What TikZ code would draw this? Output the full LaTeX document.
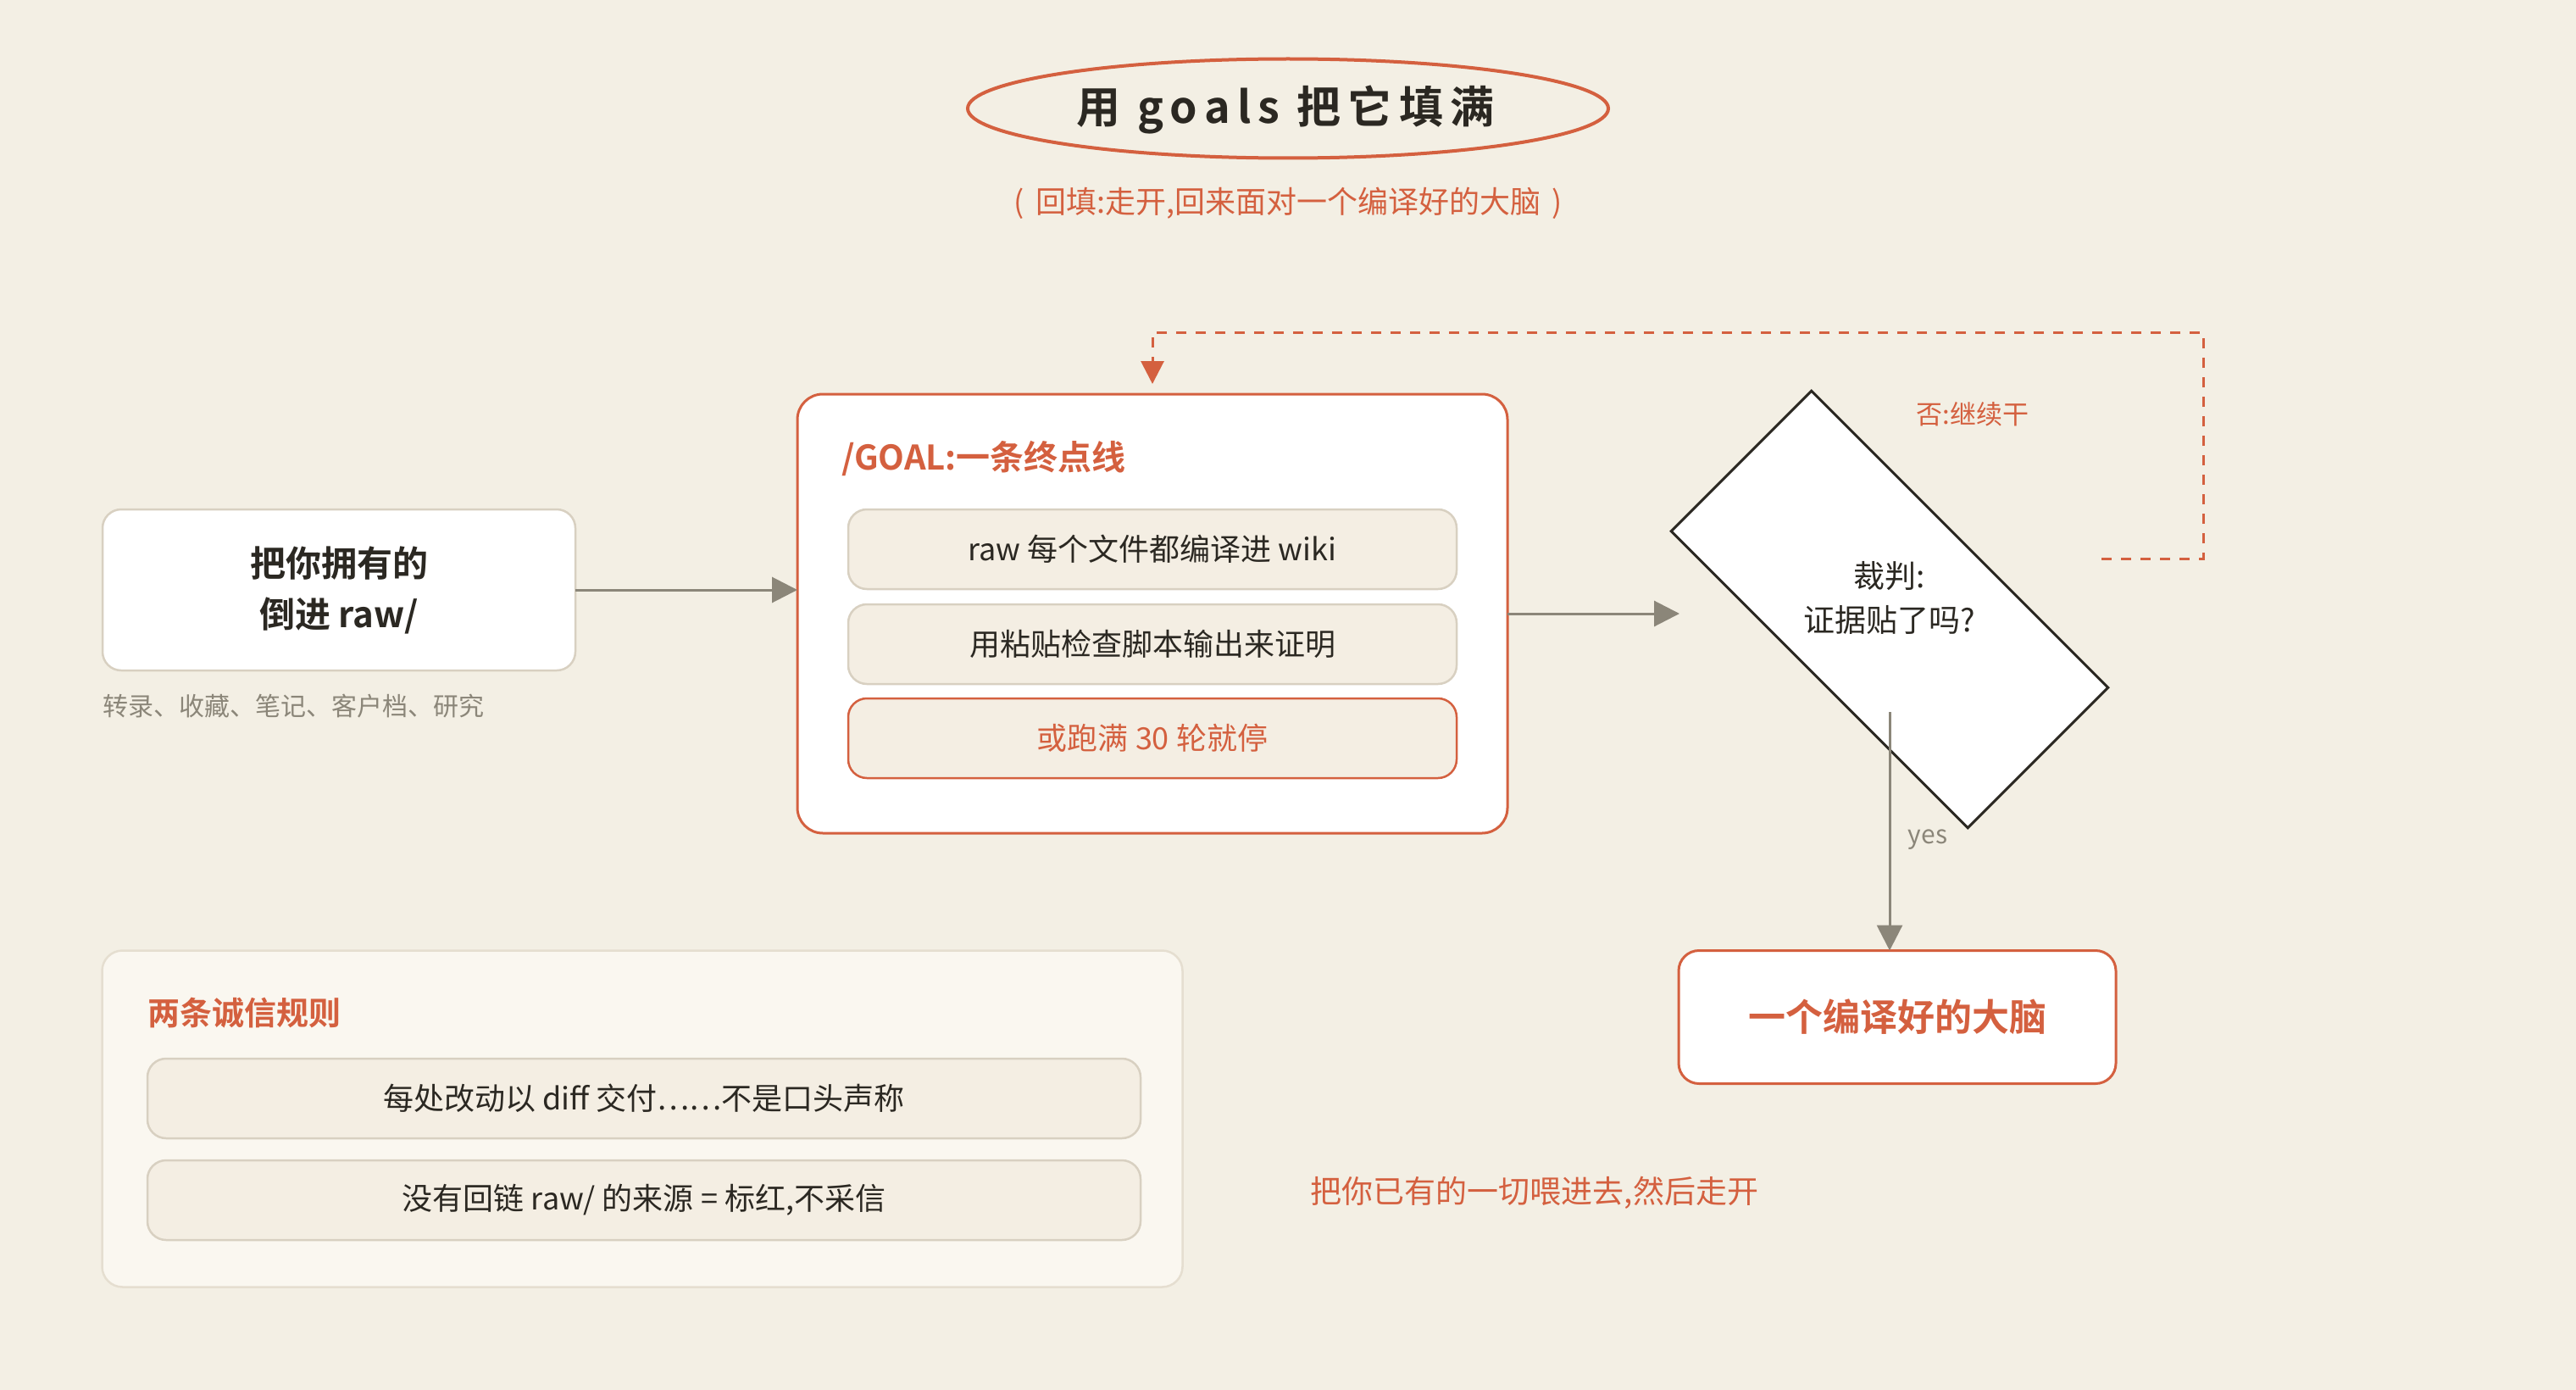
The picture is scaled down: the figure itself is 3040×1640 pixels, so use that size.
\documentclass[tikz,border=0pt]{standalone}
\usepackage{fontspec}
\setmainfont{Noto Sans CJK SC}[BoldFont={Noto Sans CJK SC Bold}]
\newfontfamily\headfont{Noto Sans CJK SC Bold}[LetterSpace=16]
\usetikzlibrary{arrows.meta,shapes.geometric}

\definecolor{paper}{HTML}{F3EFE4}
\definecolor{accent}{HTML}{D4603F}
\definecolor{ink}{HTML}{2B2822}
\definecolor{muted}{HTML}{8B8679}
\definecolor{cream}{HTML}{F4EEE3}
\definecolor{line}{HTML}{D8D0C1}
\definecolor{panel}{HTML}{FAF7F0}
\definecolor{panelline}{HTML}{E5DED0}

\newcommand\fsz[1]{\fontsize{#1}{#1}\selectfont}

\begin{document}
\begin{tikzpicture}[x=1pt,y=-1pt,
  every node/.style={inner sep=0pt, outer sep=0pt},
  card/.style={rounded corners=22pt, line width=2.5pt, align=center},
  item/.style={rounded corners=22pt, draw=line, line width=2.5pt, fill=cream,
    minimum width=718pt, minimum height=94pt, font=\fsz{36}, text=ink},
  flow/.style={draw=muted, line width=3pt, -{Triangle[length=30pt,width=30pt]}},
  loopback/.style={draw=accent, line width=3pt, dash pattern=on 12pt off 11pt,
    shorten >=12pt, -{Triangle[length=27pt,width=27pt]}}]

% canvas
\fill[paper] (0,0) rectangle (3040,1640);
\useasboundingbox (0,0) rectangle (3040,1640);

% heading
\node[ellipse, draw=accent, line width=4pt, minimum width=756pt, minimum height=117pt] (head) at (1520,128) {};
\node[font=\headfont\fontsize{52}{60}\selectfont, text=ink] (headText) at (1517,129) {用 goals 把它填满};
\node[text=accent, font=\fsz{36}] (sub) at (1520,240) {(\hspace{13pt}回填:走开,回来面对一个编译好的大脑\hspace{13pt})};

% source box
\node[card, draw=line, fill=white, minimum width=558pt, minimum height=190pt,
  font=\bfseries\fontsize{42}{60}\selectfont, text=ink] (src) at (400,696) {把你拥有的\\倒进 raw/};
\node[anchor=base west, text=muted, font=\fsz{30}] (srcNote) at (121,844) {转录、收藏、笔记、客户档、研究};

% goal box
\node[card, rounded corners=30pt, draw=accent, line width=3pt, fill=white,
  minimum width=838pt, minimum height=518pt] (goal) at (1360,724) {};
\node[anchor=base west, text=accent, font=\bfseries\fsz{40}] (goalTitle) at (993,554) {/GOAL:一条终点线};
\node[item] (g1) at (1360,648) {raw 每个文件都编译进 wiki};
\node[item] (g2) at (1360,760) {用粘贴检查脚本输出来证明};
\node[item, draw=accent, text=accent] (g3) at (1360,871) {或跑满 30 轮就停};

% judge
\node[draw=ink, line width=3pt, fill=white, rotate=-45,
  minimum width=495pt, minimum height=234pt] (judge) at (2230,719) {};
\node[align=center, font=\fontsize{37}{52}\selectfont, text=ink] (judgeText) at (2230,705) {裁判:\\证据贴了吗?};
\node[text=accent, font=\fsz{31}] (noLabel) at (2328,489) {否:继续干};

% result
\node[card, rounded corners=24pt, draw=accent, line width=3pt, fill=white,
  minimum width=516pt, minimum height=157pt, font=\bfseries\fsz{44}, text=accent] (brain) at (2239,1200) {一个编译好的大脑};
\node[text=muted, font=\fsz{30}] (yesLabel) at (2275,991) {yes};

% honesty rules
\node[card, rounded corners=24pt, draw=panelline, fill=panel,
  minimum width=1275pt, minimum height=397pt] (rules) at (758,1320) {};
\node[anchor=base west, text=accent, font=\bfseries\fsz{38}] (rulesTitle) at (174,1209) {两条诚信规则};
\node[item, minimum width=1172pt] (r1) at (760,1296) {每处改动以 diff 交付……不是口头声称};
\node[item, minimum width=1172pt] (r2) at (760,1416) {没有回链 raw/ 的来源 = 标红,不采信};

\node[text=accent, font=\fsz{37}] (tagline) at (1811,1407) {把你已有的一切喂进去,然后走开};

% connectors
\coordinate (judgeIn) at (1982,724);
\coordinate (yesFrom) at (2230,840);
\coordinate (noFrom) at (2480,659);
\coordinate (loopTop) at (2600,392);

\draw[flow] (src.east) -- (src.east -| goal.west);
\draw[flow] (goal.east) -- (goal.east -| judgeIn);
\draw[flow] (yesFrom) -- (yesFrom |- brain.north);
\draw[loopback] (noFrom) -| (loopTop) -| (goal.north);
\end{tikzpicture}
\end{document}
